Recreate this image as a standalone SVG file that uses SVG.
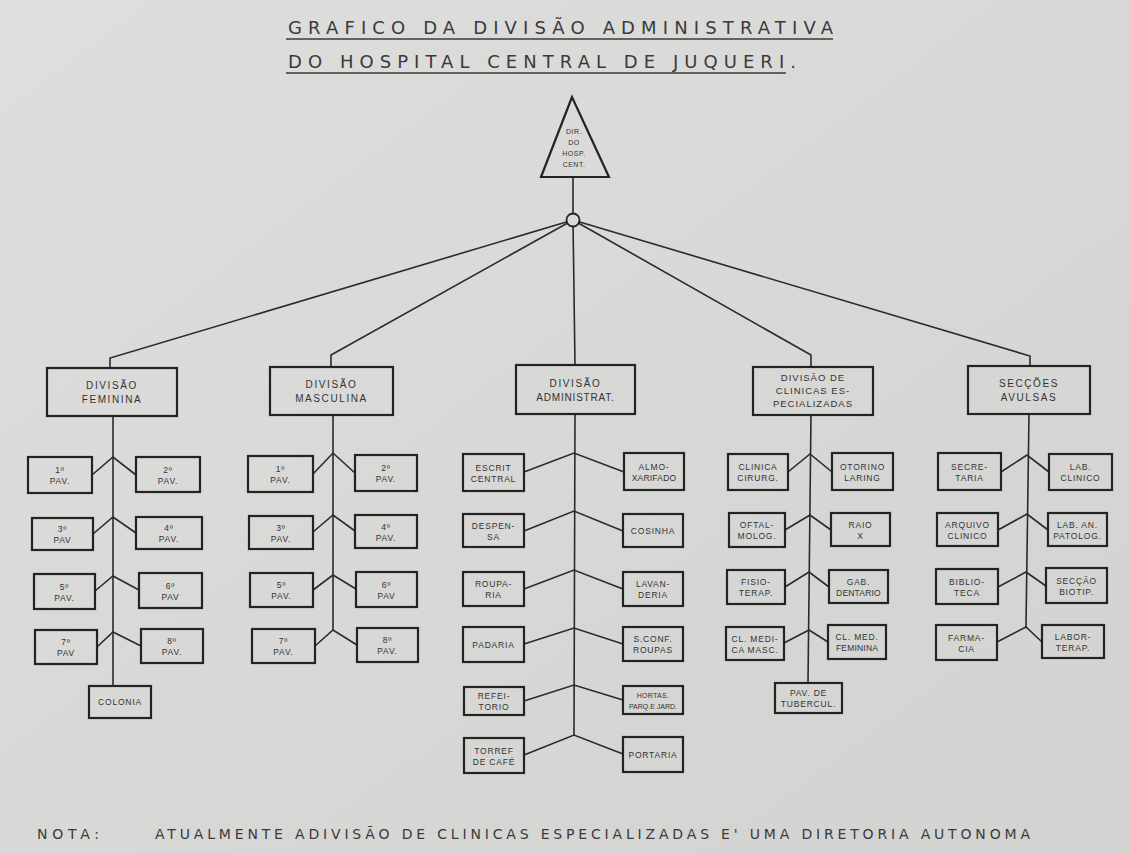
<svg xmlns="http://www.w3.org/2000/svg" width="1129" height="854" viewBox="0 0 1129 854">
<defs>
<linearGradient id="bg" x1="0" y1="0" x2="1" y2="1">
<stop offset="0" stop-color="#dededc"/>
<stop offset="1" stop-color="#d2d2d0"/>
</linearGradient>
<style>
.b{fill:none;stroke:#232323;stroke-width:2.2}
.c{fill:none;stroke:#2a2a2a;stroke-width:1.6;stroke-linejoin:miter}
.t{font-family:"Liberation Sans",Arial,sans-serif;font-size:8.5px;fill:#333;text-anchor:middle;letter-spacing:0.8px}
.d{font-family:"Liberation Sans",Arial,sans-serif;font-size:10px;fill:#333;text-anchor:middle;letter-spacing:1.6px}
.h{font-family:"DejaVu Sans",Verdana,sans-serif;font-size:18px;fill:#3a3a3a}
.n{font-family:"DejaVu Sans",Verdana,sans-serif;font-size:14px;fill:#3a3a3a}
.u{stroke:#3a3a3a;stroke-width:1.4}
</style>
</defs>
<rect x="0" y="0" width="1129" height="854" fill="url(#bg)"/>

<g id="title">
<text class="h" x="288" y="34" textLength="545" lengthAdjust="spacing">GRAFICO DA DIVISÃO ADMINISTRATIVA</text>
<line class="u" x1="286" y1="39" x2="833" y2="39"/>
<text class="h" x="288" y="68" textLength="508" lengthAdjust="spacing">DO HOSPITAL CENTRAL DE JUQUERI.</text>
<line class="u" x1="286" y1="73" x2="786" y2="73"/>
</g>

<g id="connectors">
<path class="c" d="M573,177 L573,214"/>
<path class="c" d="M573,220 L110,358 L110,368"/>
<path class="c" d="M573,220 L331,355 L331,367"/>
<path class="c" d="M573,220 L575,365"/>
<path class="c" d="M573,220 L811,355 L811,367"/>
<path class="c" d="M573,220 L1030,356 L1030,366"/>
<path class="c" d="M113,416 L113,686"/>
<path class="c" d="M92,475 L113,457 L136,475"/>
<path class="c" d="M93,534 L113,517 L136,533"/>
<path class="c" d="M95,591 L113,576 L139,590"/>
<path class="c" d="M97,647 L113,632 L141,646"/>
<path class="c" d="M333,415 L333,630"/>
<path class="c" d="M313,474 L333,453 L355,473"/>
<path class="c" d="M313,532 L333,515 L355,531"/>
<path class="c" d="M313,590 L333,575 L356,589"/>
<path class="c" d="M315,646 L333,630 L357,645"/>
<path class="c" d="M575,414 L574,735"/>
<path class="c" d="M524,472 L574,453 L624,472"/>
<path class="c" d="M524,531 L574,511 L623,531"/>
<path class="c" d="M524,589 L574,570 L623,589"/>
<path class="c" d="M524,644 L574,628 L623,644"/>
<path class="c" d="M524,701 L574,685 L623,700"/>
<path class="c" d="M524,755 L574,735 L623,754"/>
<path class="c" d="M811,415 L808,683"/>
<path class="c" d="M788,472 L810,454 L832,472"/>
<path class="c" d="M785,530 L810,515 L831,530"/>
<path class="c" d="M785,587 L809,572 L829,587"/>
<path class="c" d="M784,643 L809,630 L828,642"/>
<path class="c" d="M1029,414 L1026,627"/>
<path class="c" d="M1001,472 L1027,455 L1049,472"/>
<path class="c" d="M998,530 L1027,514 L1048,530"/>
<path class="c" d="M998,587 L1026,572 L1046,586"/>
<path class="c" d="M997,642 L1026,627 L1042,642"/>
</g>

<g id="diretoria">
<polygon class="b" points="572,97 541,177 609,177"/>
<text class="t" style="font-size:7px;letter-spacing:0.5px" x="574" y="134">DIR.</text>
<text class="t" style="font-size:7px;letter-spacing:0.5px" x="574" y="145">DO</text>
<text class="t" style="font-size:7px;letter-spacing:0.5px" x="574" y="156">HOSP.</text>
<text class="t" style="font-size:7px;letter-spacing:0.5px" x="574" y="167">CENT.</text>
</g>
<g id="juncao">
<circle cx="573" cy="220" r="6.5" fill="#dbdbd9" stroke="#232323" stroke-width="1.8"/>
</g>

<g id="div-feminina">
<rect class="b" x="47" y="368" width="130" height="48"/>
<text class="d" x="112" y="389">DIVISÃO</text>
<text class="d" x="112" y="403">FEMININA</text>
</g>
<g id="div-masculina">
<rect class="b" x="270" y="367" width="123" height="48"/>
<text class="d" x="331.5" y="388">DIVISÃO</text>
<text class="d" x="331.5" y="402">MASCULINA</text>
</g>
<g id="div-administrat">
<rect class="b" x="516" y="365" width="119" height="49"/>
<text class="d" x="575.5" y="387">DIVISÃO</text>
<text class="d" x="575.5" y="401" style="letter-spacing:0.8px">ADMINISTRAT.</text>
</g>
<g id="div-clinicas">
<rect class="b" x="753" y="367" width="120" height="48"/>
<text class="d" style="font-size:9.5px;letter-spacing:1px" x="813" y="381">DIVISÃO DE</text>
<text class="d" style="font-size:9.5px;letter-spacing:1px" x="813" y="394">CLINICAS ES-</text>
<text class="d" style="font-size:9.5px;letter-spacing:1px" x="813" y="407">PECIALIZADAS</text>
</g>
<g id="div-seccoes">
<rect class="b" x="968" y="366" width="122" height="48"/>
<text class="d" x="1029" y="387">SECÇÕES</text>
<text class="d" x="1029" y="401">AVULSAS</text>
</g>

<g id="f1"><rect class="b" x="28" y="457" width="64" height="36"/><text class="t" x="60" y="473">1º</text><text class="t" x="60" y="484">PAV.</text></g>
<g id="f2"><rect class="b" x="136" y="457" width="64" height="35"/><text class="t" x="168" y="472.5">2º</text><text class="t" x="168" y="483.5">PAV.</text></g>
<g id="f3"><rect class="b" x="32" y="518" width="61" height="32"/><text class="t" x="62.5" y="532">3º</text><text class="t" x="62.5" y="543">PAV</text></g>
<g id="f4"><rect class="b" x="136" y="517" width="66" height="32"/><text class="t" x="169" y="531">4º</text><text class="t" x="169" y="542">PAV.</text></g>
<g id="f5"><rect class="b" x="34" y="574" width="61" height="35"/><text class="t" x="64.5" y="589.5">5º</text><text class="t" x="64.5" y="600.5">PAV.</text></g>
<g id="f6"><rect class="b" x="139" y="573" width="63" height="35"/><text class="t" x="170.5" y="588.5">6º</text><text class="t" x="170.5" y="599.5">PAV</text></g>
<g id="f7"><rect class="b" x="35" y="630" width="62" height="34"/><text class="t" x="66" y="645">7º</text><text class="t" x="66" y="656">PAV</text></g>
<g id="f8"><rect class="b" x="141" y="629" width="62" height="34"/><text class="t" x="172" y="644">8º</text><text class="t" x="172" y="655">PAV.</text></g>
<g id="colonia"><rect class="b" x="89" y="686" width="62" height="32"/><text class="t" x="120" y="705">COLONIA</text></g>

<g id="m1"><rect class="b" x="248" y="456" width="65" height="36"/><text class="t" x="280.5" y="472">1º</text><text class="t" x="280.5" y="483">PAV.</text></g>
<g id="m2"><rect class="b" x="355" y="455" width="62" height="36"/><text class="t" x="386" y="471">2º</text><text class="t" x="386" y="482">PAV.</text></g>
<g id="m3"><rect class="b" x="249" y="516" width="64" height="33"/><text class="t" x="281" y="530.5">3º</text><text class="t" x="281" y="541.5">PAV.</text></g>
<g id="m4"><rect class="b" x="355" y="515" width="62" height="33"/><text class="t" x="386" y="529.5">4º</text><text class="t" x="386" y="540.5">PAV.</text></g>
<g id="m5"><rect class="b" x="250" y="573" width="63" height="34"/><text class="t" x="281.5" y="588">5º</text><text class="t" x="281.5" y="599">PAV.</text></g>
<g id="m6"><rect class="b" x="356" y="572" width="61" height="35"/><text class="t" x="386.5" y="587.5">6º</text><text class="t" x="386.5" y="598.5">PAV</text></g>
<g id="m7"><rect class="b" x="252" y="629" width="63" height="34"/><text class="t" x="283.5" y="644">7º</text><text class="t" x="283.5" y="655">PAV.</text></g>
<g id="m8"><rect class="b" x="357" y="628" width="61" height="34"/><text class="t" x="387.5" y="643">8º</text><text class="t" x="387.5" y="654">PAV.</text></g>

<g id="escrit"><rect class="b" x="463" y="454" width="61" height="37"/><text class="t" x="493.5" y="470.5">ESCRIT</text><text class="t" x="493.5" y="481.5">CENTRAL</text></g>
<g id="almox"><rect class="b" x="624" y="453" width="60" height="37"/><text class="t" x="654" y="469.5">ALMO-</text><text class="t" x="654" y="480.5" style="letter-spacing:0.2px">XARIFADO</text></g>
<g id="despensa"><rect class="b" x="463" y="514" width="61" height="33"/><text class="t" x="493.5" y="528.5">DESPEN-</text><text class="t" x="493.5" y="539.5">SA</text></g>
<g id="cosinha"><rect class="b" x="623" y="514" width="60" height="33"/><text class="t" x="653" y="533.5">COSINHA</text></g>
<g id="rouparia"><rect class="b" x="463" y="572" width="61" height="34"/><text class="t" x="493.5" y="587">ROUPA-</text><text class="t" x="493.5" y="598">RIA</text></g>
<g id="lavanderia"><rect class="b" x="623" y="572" width="60" height="34"/><text class="t" x="653" y="587">LAVAN-</text><text class="t" x="653" y="598">DERIA</text></g>
<g id="padaria"><rect class="b" x="463" y="627" width="61" height="35"/><text class="t" x="493.5" y="647.5">PADARIA</text></g>
<g id="sconf"><rect class="b" x="623" y="627" width="60" height="34"/><text class="t" x="653" y="642">S.CONF.</text><text class="t" x="653" y="653">ROUPAS</text></g>
<g id="refeitorio"><rect class="b" x="464" y="687" width="60" height="28"/><text class="t" x="494" y="699">REFEI-</text><text class="t" x="494" y="710">TORIO</text></g>
<g id="hortas"><rect class="b" x="623" y="686" width="60" height="28"/><text class="t" x="653" y="698" style="font-size:7px;letter-spacing:0.3px">HORTAS.</text><text class="t" x="653" y="709" style="font-size:7px;letter-spacing:0px">PARQ.E JARD.</text></g>
<g id="torref"><rect class="b" x="464" y="738" width="60" height="35"/><text class="t" x="494" y="753.5">TORREF</text><text class="t" x="494" y="764.5">DE CAFÉ</text></g>
<g id="portaria"><rect class="b" x="623" y="737" width="60" height="35"/><text class="t" x="653" y="757.5">PORTARIA</text></g>

<g id="cirurg"><rect class="b" x="728" y="454" width="60" height="36"/><text class="t" x="758" y="470">CLINICA</text><text class="t" x="758" y="481">CIRURG.</text></g>
<g id="otorino"><rect class="b" x="832" y="453" width="61" height="37"/><text class="t" x="862.5" y="469.5">OTORINO</text><text class="t" x="862.5" y="480.5">LARING</text></g>
<g id="oftal"><rect class="b" x="729" y="513" width="56" height="34"/><text class="t" x="757" y="528">OFTAL-</text><text class="t" x="757" y="539">MOLOG.</text></g>
<g id="raiox"><rect class="b" x="831" y="513" width="59" height="33"/><text class="t" x="860.5" y="527.5">RAIO</text><text class="t" x="860.5" y="538.5">X</text></g>
<g id="fisio"><rect class="b" x="727" y="570" width="58" height="34"/><text class="t" x="756" y="585">FISIO-</text><text class="t" x="756" y="596">TERAP.</text></g>
<g id="gab"><rect class="b" x="829" y="570" width="59" height="33"/><text class="t" x="858.5" y="584.5">GAB.</text><text class="t" x="858.5" y="595.5" style="letter-spacing:0.2px">DENTARIO</text></g>
<g id="clmasc"><rect class="b" x="726" y="627" width="58" height="33"/><text class="t" x="755" y="641.5">CL. MEDI-</text><text class="t" x="755" y="652.5">CA MASC.</text></g>
<g id="clfem"><rect class="b" x="828" y="625" width="58" height="34"/><text class="t" x="857" y="640">CL. MED.</text><text class="t" x="857" y="651" style="letter-spacing:0.2px">FEMININA</text></g>
<g id="tubercul"><rect class="b" x="775" y="683" width="67" height="30"/><text class="t" x="808.5" y="696">PAV. DE</text><text class="t" x="808.5" y="707">TUBERCUL.</text></g>

<g id="secretaria"><rect class="b" x="938" y="453" width="63" height="37"/><text class="t" x="969.5" y="469.5">SECRE-</text><text class="t" x="969.5" y="480.5">TARIA</text></g>
<g id="labclin"><rect class="b" x="1049" y="454" width="63" height="36"/><text class="t" x="1080.5" y="470">LAB.</text><text class="t" x="1080.5" y="481">CLINICO</text></g>
<g id="arquivo"><rect class="b" x="937" y="513" width="61" height="33"/><text class="t" x="967.5" y="527.5">ARQUIVO</text><text class="t" x="967.5" y="538.5">CLINICO</text></g>
<g id="labpat"><rect class="b" x="1048" y="513" width="59" height="33"/><text class="t" x="1077.5" y="527.5">LAB. AN.</text><text class="t" x="1077.5" y="538.5">PATOLOG.</text></g>
<g id="biblioteca"><rect class="b" x="936" y="569" width="62" height="35"/><text class="t" x="967" y="584.5">BIBLIO-</text><text class="t" x="967" y="595.5">TECA</text></g>
<g id="biotip"><rect class="b" x="1046" y="568" width="61" height="35"/><text class="t" x="1076.5" y="583.5">SECÇÃO</text><text class="t" x="1076.5" y="594.5">BIOTIP.</text></g>
<g id="farmacia"><rect class="b" x="936" y="625" width="61" height="35"/><text class="t" x="966.5" y="640.5">FARMA-</text><text class="t" x="966.5" y="651.5">CIA</text></g>
<g id="laborterap"><rect class="b" x="1042" y="625" width="62" height="33"/><text class="t" x="1073" y="639.5">LABOR-</text><text class="t" x="1073" y="650.5">TERAP.</text></g>

<g id="nota">
<text class="n" x="37" y="839" textLength="62" lengthAdjust="spacing">NOTA:</text>
<text class="n" x="155" y="839" textLength="875" lengthAdjust="spacing">ATUALMENTE ADIVISÃO DE CLINICAS ESPECIALIZADAS E' UMA  DIRETORIA AUTONOMA</text>
</g>
</svg>
